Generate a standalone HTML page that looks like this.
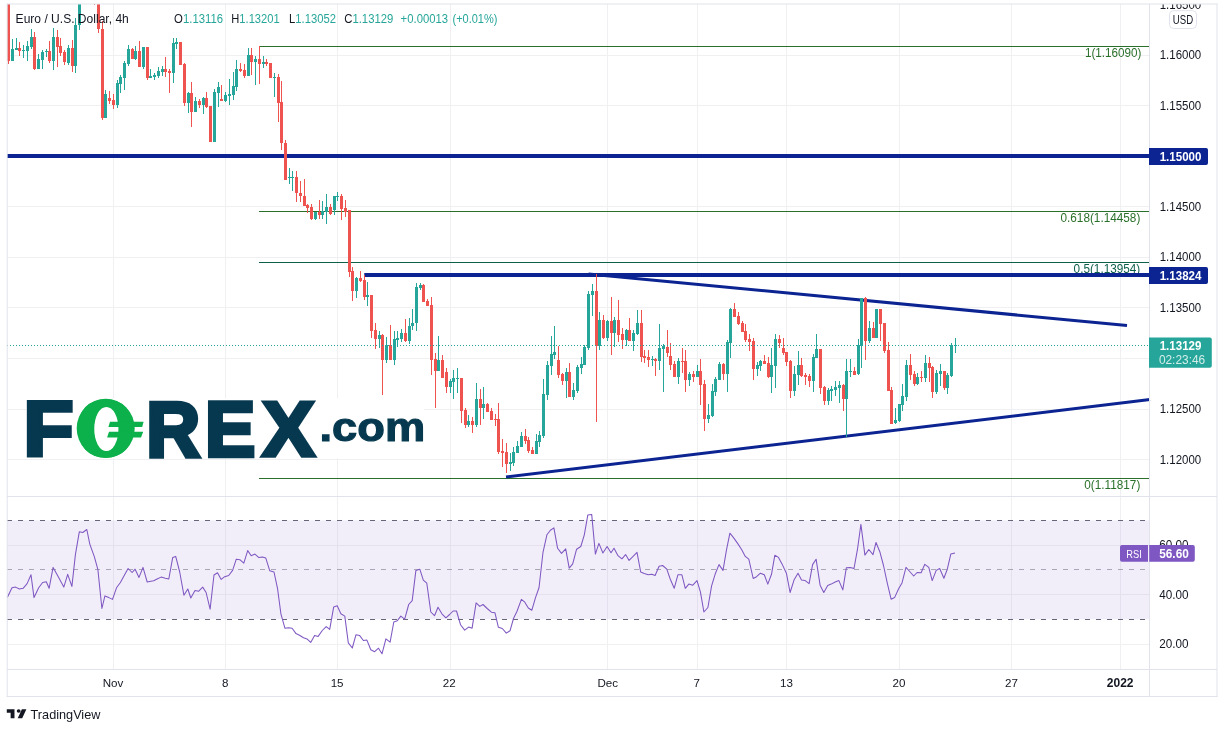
<!DOCTYPE html>
<html><head><meta charset="utf-8"><title>EUR/USD 4h chart</title>
<style>html,body{margin:0;padding:0;background:#fff}body{width:1227px;height:732px;overflow:hidden}svg{display:block;will-change:transform}</style>
</head><body>
<svg width="1227" height="732" viewBox="0 0 1227 732" font-family='"Liberation Sans", Arial, sans-serif'>
<rect width="1227" height="732" fill="#fff"/>
<g fill="#f0f0f3" shape-rendering="crispEdges">
<rect x="113" y="4" width="1" height="492"/>
<rect x="113" y="497" width="1" height="172"/>
<rect x="225" y="4" width="1" height="492"/>
<rect x="225" y="497" width="1" height="172"/>
<rect x="337" y="4" width="1" height="492"/>
<rect x="337" y="497" width="1" height="172"/>
<rect x="450" y="4" width="1" height="492"/>
<rect x="450" y="497" width="1" height="172"/>
<rect x="607" y="4" width="1" height="492"/>
<rect x="607" y="497" width="1" height="172"/>
<rect x="697" y="4" width="1" height="492"/>
<rect x="697" y="497" width="1" height="172"/>
<rect x="786" y="4" width="1" height="492"/>
<rect x="786" y="497" width="1" height="172"/>
<rect x="899" y="4" width="1" height="492"/>
<rect x="899" y="497" width="1" height="172"/>
<rect x="1011" y="4" width="1" height="492"/>
<rect x="1011" y="497" width="1" height="172"/>
<rect x="1120" y="4" width="1" height="492"/>
<rect x="1120" y="497" width="1" height="172"/>
<rect x="7" y="55" width="1142" height="1"/>
<rect x="7" y="105" width="1142" height="1"/>
<rect x="7" y="156" width="1142" height="1"/>
<rect x="7" y="206" width="1142" height="1"/>
<rect x="7" y="257" width="1142" height="1"/>
<rect x="7" y="307" width="1142" height="1"/>
<rect x="7" y="358" width="1142" height="1"/>
<rect x="7" y="409" width="1142" height="1"/>
<rect x="7" y="459" width="1142" height="1"/>
<rect x="7" y="545" width="1142" height="1"/>
<rect x="7" y="594" width="1142" height="1"/>
<rect x="7" y="644" width="1142" height="1"/>
</g>
<rect x="7" y="520.4" width="1142.6" height="98.8" fill="#7e57c2" fill-opacity="0.1"/>
<g fill="none" stroke-width="1" stroke-dasharray="5 6">
<path d="M7 520.5H1149" stroke="#67657a"/>
<path d="M7 619.5H1149" stroke="#67657a"/>
<path d="M7 569.5H1149" stroke="#a9a7b6"/>
</g>
<polyline fill="none" stroke="#7e57c2" stroke-width="1.05" stroke-linejoin="round" points="7.3,597.6 12.0,587.8 15.5,587.1 19.4,589.0 23.1,588.3 27.1,583.6 31.0,574.8 34.0,597.6 38.7,587.8 42.6,582.5 46.3,581.8 49.1,588.3 53.1,567.4 58.4,577.1 63.8,587.1 67.7,574.3 71.9,586.4 75.4,554.6 79.3,531.8 82.8,532.5 86.8,529.5 89.8,544.1 94.4,556.9 97.9,569.7 101.9,608.5 104.9,595.9 108.8,597.6 112.5,599.4 116.5,587.8 120.4,582.5 124.2,575.5 128.1,568.5 132.1,572.5 135.1,569.2 139.0,577.4 143.0,567.4 147.2,582.0 150.9,581.3 153.7,580.8 157.1,579.0 161.1,577.1 165.3,578.3 168.8,579.0 172.7,557.6 175.7,556.4 179.7,572.0 183.9,595.2 187.8,589.0 190.8,598.0 195.0,590.6 198.5,591.3 202.7,587.1 206.1,592.5 210.1,609.2 214.0,575.0 217.5,572.7 221.2,579.4 224.7,576.7 228.7,575.5 232.6,570.4 236.3,559.2 239.8,559.7 243.8,563.2 247.7,550.6 251.2,555.7 254.9,554.1 258.9,557.6 262.4,556.9 265.8,558.1 269.8,570.8 274.0,572.0 277.5,588.3 280.9,613.8 284.9,628.2 288.6,627.8 292.1,628.2 296.0,633.6 299.5,635.2 303.5,637.7 307.0,638.9 310.7,642.4 314.6,635.4 318.1,636.4 322.3,630.5 326.2,626.6 329.7,629.4 333.7,606.9 337.2,605.7 340.9,613.8 344.8,616.1 348.3,642.9 352.3,648.0 356.0,634.7 359.5,635.4 363.4,640.5 366.9,640.1 370.8,649.8 374.6,651.7 378.5,648.2 382.0,653.8 385.9,638.9 390.1,642.2 393.8,622.0 397.3,620.8 400.8,616.1 404.7,619.2 408.7,604.5 412.2,600.6 415.9,570.4 419.8,569.2 423.3,580.1 426.8,583.2 430.8,612.0 434.5,615.7 438.0,607.3 441.9,613.8 445.9,617.8 449.6,614.5 453.1,611.0 456.5,611.0 460.5,624.7 464.7,630.1 468.6,627.1 472.1,628.2 476.1,602.9 479.8,606.4 483.0,604.5 487.2,608.5 491.4,612.2 494.9,612.7 498.4,627.3 502.3,628.5 506.3,633.1 510.0,630.8 513.5,618.5 516.9,611.5 521.4,599.4 524.8,602.2 528.3,608.0 531.8,610.3 535.5,597.6 539.0,587.8 543.0,552.3 546.9,534.8 550.4,530.2 553.9,527.9 557.6,548.3 561.5,553.4 565.7,548.8 569.2,568.1 572.7,563.9 576.6,549.2 580.8,546.5 584.3,534.8 587.8,515.1 591.7,514.4 595.4,554.1 598.9,543.4 602.9,553.0 607.1,546.5 611.0,552.7 614.0,548.3 618.0,555.7 621.9,558.8 625.6,554.6 629.1,560.4 633.1,556.4 637.0,552.3 640.7,572.0 644.2,573.6 648.2,574.8 651.7,574.3 655.1,575.5 659.1,566.2 662.6,565.5 666.8,569.2 670.2,579.0 674.2,588.3 677.9,574.8 681.9,574.8 685.3,588.3 688.8,584.1 692.8,585.2 697.0,580.6 700.4,591.8 703.9,612.0 707.9,607.5 711.6,585.9 715.1,574.3 719.0,564.6 723.0,570.4 726.5,549.9 729.9,533.2 733.7,537.9 737.6,543.4 741.6,549.5 745.3,556.4 748.8,559.2 753.2,578.5 756.6,576.7 760.4,573.2 764.3,574.8 767.8,584.1 771.5,574.3 774.8,555.3 778.5,557.4 782.0,563.9 786.4,573.2 790.1,592.5 794.0,580.1 798.0,573.2 801.5,580.1 805.2,580.6 809.1,583.6 812.6,564.6 816.1,559.2 820.1,585.2 823.8,592.5 827.7,585.5 831.2,584.1 835.2,582.0 838.9,580.6 842.8,589.9 846.3,567.8 850.2,567.4 854.0,568.5 857.5,549.2 860.9,524.4 864.9,555.1 868.8,549.5 873.0,554.6 876.0,542.5 880.0,552.3 883.5,565.5 887.4,583.6 891.1,599.2 894.6,597.6 898.6,588.7 902.0,582.9 906.0,567.4 909.7,571.5 913.7,576.0 917.1,572.5 921.1,572.7 924.8,564.3 928.8,567.4 932.2,580.6 936.2,570.4 939.7,568.5 943.9,578.3 947.3,569.2 950.8,554.1 955.0,553.0"/>
<g shape-rendering="crispEdges">
<rect x="259" y="46" width="890.5" height="1" fill="#2a702a"/>
<rect x="259" y="211" width="890.5" height="1" fill="#2a702a"/>
<rect x="259" y="262" width="890.5" height="1" fill="#0e5f4c"/>
<rect x="259" y="478" width="890.5" height="1" fill="#2a702a"/>
</g>
<text x="1084.9" y="57.3" font-size="12" font-weight="normal" fill="#2a702a" text-anchor="start" textLength="56.4" lengthAdjust="spacingAndGlyphs">1(1.16090)</text>
<text x="1060.5" y="222.1" font-size="12" font-weight="normal" fill="#2a702a" text-anchor="start" textLength="79.8" lengthAdjust="spacingAndGlyphs">0.618(1.14458)</text>
<text x="1073.6" y="273.3" font-size="12" font-weight="normal" fill="#0e5f4c" text-anchor="start" textLength="66.7" lengthAdjust="spacingAndGlyphs">0.5(1.13954)</text>
<text x="1084.3" y="489.2" font-size="12" font-weight="normal" fill="#2a702a" text-anchor="start" textLength="56" lengthAdjust="spacingAndGlyphs">0(1.11817)</text>
<rect x="7" y="154" width="1143" height="4" fill="#0b2492"/>
<rect x="364.3" y="273" width="785.7" height="4" fill="#0b2492"/>
<path d="M588.5 273.9L1127 325.6" stroke="#0b2492" stroke-width="3.05" fill="none"/>
<path d="M506 477L1150 399.6" stroke="#0b2492" stroke-width="3.05" fill="none"/>
<rect x="26.5" y="398.5" width="397.5" height="59.7" fill="#fff"/>
<g shape-rendering="crispEdges">
<rect x="8" y="4" width="1" height="60" fill="#ef5350"/>
<rect x="7" y="4" width="3" height="57" fill="#ef5350"/>
<rect x="12" y="39" width="1" height="22" fill="#26a69a"/>
<rect x="11" y="49" width="3" height="12" fill="#26a69a"/>
<rect x="16" y="38" width="1" height="12" fill="#26a69a"/>
<rect x="15" y="48" width="3" height="2" fill="#26a69a"/>
<rect x="19" y="42" width="1" height="14" fill="#ef5350"/>
<rect x="18" y="48" width="3" height="3" fill="#ef5350"/>
<rect x="23" y="45" width="1" height="13" fill="#26a69a"/>
<rect x="22" y="50" width="3" height="1" fill="#26a69a"/>
<rect x="27" y="41" width="1" height="20" fill="#26a69a"/>
<rect x="26" y="46" width="3" height="5" fill="#26a69a"/>
<rect x="31" y="29" width="1" height="20" fill="#26a69a"/>
<rect x="30" y="37" width="3" height="10" fill="#26a69a"/>
<rect x="34" y="32" width="1" height="38" fill="#ef5350"/>
<rect x="33" y="37" width="3" height="32" fill="#ef5350"/>
<rect x="38" y="54" width="1" height="15" fill="#26a69a"/>
<rect x="37" y="59" width="3" height="10" fill="#26a69a"/>
<rect x="42" y="50" width="1" height="19" fill="#26a69a"/>
<rect x="41" y="52" width="3" height="8" fill="#26a69a"/>
<rect x="46" y="49" width="1" height="8" fill="#26a69a"/>
<rect x="45" y="51" width="3" height="1" fill="#26a69a"/>
<rect x="49" y="41" width="1" height="22" fill="#ef5350"/>
<rect x="48" y="51" width="3" height="10" fill="#ef5350"/>
<rect x="53" y="28" width="1" height="42" fill="#26a69a"/>
<rect x="52" y="37" width="3" height="24" fill="#26a69a"/>
<rect x="57" y="30" width="1" height="37" fill="#ef5350"/>
<rect x="56" y="37" width="3" height="10" fill="#ef5350"/>
<rect x="60" y="38" width="1" height="18" fill="#ef5350"/>
<rect x="59" y="46" width="3" height="7" fill="#ef5350"/>
<rect x="64" y="50" width="1" height="15" fill="#ef5350"/>
<rect x="63" y="52" width="3" height="10" fill="#ef5350"/>
<rect x="68" y="45" width="1" height="20" fill="#26a69a"/>
<rect x="67" y="48" width="3" height="15" fill="#26a69a"/>
<rect x="72" y="40" width="1" height="32" fill="#ef5350"/>
<rect x="71" y="48" width="3" height="18" fill="#ef5350"/>
<rect x="75" y="18" width="1" height="55" fill="#26a69a"/>
<rect x="74" y="25" width="3" height="41" fill="#26a69a"/>
<rect x="79" y="4" width="1" height="26" fill="#26a69a"/>
<rect x="78" y="4" width="3" height="21" fill="#26a69a"/>
<rect x="98" y="4" width="1" height="29" fill="#ef5350"/>
<rect x="97" y="4" width="3" height="25" fill="#ef5350"/>
<rect x="102" y="21" width="1" height="99" fill="#ef5350"/>
<rect x="101" y="29" width="3" height="89" fill="#ef5350"/>
<rect x="105" y="90" width="1" height="28" fill="#26a69a"/>
<rect x="104" y="94" width="3" height="24" fill="#26a69a"/>
<rect x="109" y="91" width="1" height="13" fill="#ef5350"/>
<rect x="108" y="98" width="3" height="3" fill="#ef5350"/>
<rect x="113" y="94" width="1" height="15" fill="#ef5350"/>
<rect x="112" y="100" width="3" height="5" fill="#ef5350"/>
<rect x="117" y="80" width="1" height="28" fill="#26a69a"/>
<rect x="116" y="83" width="3" height="22" fill="#26a69a"/>
<rect x="120" y="75" width="1" height="18" fill="#26a69a"/>
<rect x="119" y="77" width="3" height="7" fill="#26a69a"/>
<rect x="124" y="61" width="1" height="29" fill="#26a69a"/>
<rect x="123" y="63" width="3" height="15" fill="#26a69a"/>
<rect x="128" y="45" width="1" height="21" fill="#26a69a"/>
<rect x="127" y="49" width="3" height="15" fill="#26a69a"/>
<rect x="132" y="48" width="1" height="11" fill="#ef5350"/>
<rect x="131" y="49" width="3" height="10" fill="#ef5350"/>
<rect x="135" y="46" width="1" height="14" fill="#26a69a"/>
<rect x="134" y="51" width="3" height="8" fill="#26a69a"/>
<rect x="139" y="41" width="1" height="26" fill="#ef5350"/>
<rect x="138" y="51" width="3" height="16" fill="#ef5350"/>
<rect x="143" y="47" width="1" height="22" fill="#26a69a"/>
<rect x="142" y="47" width="3" height="20" fill="#26a69a"/>
<rect x="147" y="47" width="1" height="33" fill="#ef5350"/>
<rect x="146" y="47" width="3" height="31" fill="#ef5350"/>
<rect x="150" y="69" width="1" height="9" fill="#26a69a"/>
<rect x="149" y="76" width="3" height="2" fill="#26a69a"/>
<rect x="154" y="73" width="1" height="7" fill="#26a69a"/>
<rect x="153" y="75" width="3" height="2" fill="#26a69a"/>
<rect x="158" y="67" width="1" height="11" fill="#26a69a"/>
<rect x="157" y="71" width="3" height="5" fill="#26a69a"/>
<rect x="162" y="66" width="1" height="10" fill="#26a69a"/>
<rect x="161" y="69" width="3" height="3" fill="#26a69a"/>
<rect x="165" y="57" width="1" height="20" fill="#ef5350"/>
<rect x="164" y="69" width="3" height="3" fill="#ef5350"/>
<rect x="169" y="69" width="1" height="24" fill="#ef5350"/>
<rect x="168" y="71" width="3" height="2" fill="#ef5350"/>
<rect x="173" y="38" width="1" height="45" fill="#26a69a"/>
<rect x="172" y="43" width="3" height="30" fill="#26a69a"/>
<rect x="176" y="38" width="1" height="11" fill="#26a69a"/>
<rect x="175" y="42" width="3" height="2" fill="#26a69a"/>
<rect x="179" y="42" width="3" height="23" fill="#ef5350"/>
<rect x="184" y="63" width="1" height="43" fill="#ef5350"/>
<rect x="183" y="64" width="3" height="39" fill="#ef5350"/>
<rect x="188" y="92" width="1" height="21" fill="#26a69a"/>
<rect x="187" y="93" width="3" height="10" fill="#26a69a"/>
<rect x="191" y="82" width="1" height="45" fill="#ef5350"/>
<rect x="190" y="93" width="3" height="19" fill="#ef5350"/>
<rect x="195" y="97" width="1" height="15" fill="#26a69a"/>
<rect x="194" y="101" width="3" height="11" fill="#26a69a"/>
<rect x="199" y="99" width="1" height="9" fill="#ef5350"/>
<rect x="198" y="101" width="3" height="4" fill="#ef5350"/>
<rect x="203" y="97" width="1" height="17" fill="#26a69a"/>
<rect x="202" y="98" width="3" height="7" fill="#26a69a"/>
<rect x="206" y="92" width="1" height="16" fill="#ef5350"/>
<rect x="205" y="98" width="3" height="9" fill="#ef5350"/>
<rect x="209" y="106" width="3" height="36" fill="#ef5350"/>
<rect x="214" y="89" width="1" height="53" fill="#26a69a"/>
<rect x="213" y="92" width="3" height="50" fill="#26a69a"/>
<rect x="218" y="82" width="1" height="25" fill="#26a69a"/>
<rect x="217" y="87" width="3" height="6" fill="#26a69a"/>
<rect x="221" y="85" width="1" height="16" fill="#ef5350"/>
<rect x="220" y="99" width="3" height="2" fill="#ef5350"/>
<rect x="225" y="92" width="1" height="10" fill="#26a69a"/>
<rect x="224" y="95" width="3" height="6" fill="#26a69a"/>
<rect x="229" y="79" width="1" height="26" fill="#26a69a"/>
<rect x="228" y="94" width="3" height="2" fill="#26a69a"/>
<rect x="233" y="72" width="1" height="28" fill="#26a69a"/>
<rect x="232" y="86" width="3" height="9" fill="#26a69a"/>
<rect x="236" y="60" width="1" height="31" fill="#26a69a"/>
<rect x="235" y="69" width="3" height="18" fill="#26a69a"/>
<rect x="240" y="63" width="1" height="9" fill="#ef5350"/>
<rect x="239" y="69" width="3" height="2" fill="#ef5350"/>
<rect x="244" y="64" width="1" height="14" fill="#ef5350"/>
<rect x="243" y="70" width="3" height="6" fill="#ef5350"/>
<rect x="248" y="48" width="1" height="28" fill="#26a69a"/>
<rect x="247" y="55" width="3" height="21" fill="#26a69a"/>
<rect x="251" y="48" width="1" height="27" fill="#ef5350"/>
<rect x="250" y="55" width="3" height="7" fill="#ef5350"/>
<rect x="255" y="56" width="1" height="29" fill="#26a69a"/>
<rect x="254" y="59" width="3" height="3" fill="#26a69a"/>
<rect x="259" y="46" width="1" height="38" fill="#ef5350"/>
<rect x="258" y="59" width="3" height="5" fill="#ef5350"/>
<rect x="263" y="56" width="1" height="12" fill="#26a69a"/>
<rect x="262" y="62" width="3" height="2" fill="#26a69a"/>
<rect x="266" y="59" width="1" height="7" fill="#ef5350"/>
<rect x="265" y="62" width="3" height="2" fill="#ef5350"/>
<rect x="269" y="63" width="3" height="15" fill="#ef5350"/>
<rect x="274" y="73" width="1" height="24" fill="#26a69a"/>
<rect x="273" y="77" width="3" height="1" fill="#26a69a"/>
<rect x="278" y="74" width="1" height="48" fill="#ef5350"/>
<rect x="277" y="77" width="3" height="26" fill="#ef5350"/>
<rect x="281" y="81" width="1" height="69" fill="#ef5350"/>
<rect x="280" y="102" width="3" height="41" fill="#ef5350"/>
<rect x="285" y="140" width="1" height="40" fill="#ef5350"/>
<rect x="284" y="143" width="3" height="37" fill="#ef5350"/>
<rect x="289" y="168" width="1" height="16" fill="#26a69a"/>
<rect x="288" y="177" width="3" height="1" fill="#26a69a"/>
<rect x="292" y="171" width="1" height="20" fill="#26a69a"/>
<rect x="291" y="177" width="3" height="1" fill="#26a69a"/>
<rect x="296" y="171" width="1" height="31" fill="#ef5350"/>
<rect x="295" y="177" width="3" height="16" fill="#ef5350"/>
<rect x="300" y="181" width="1" height="21" fill="#ef5350"/>
<rect x="299" y="193" width="3" height="3" fill="#ef5350"/>
<rect x="304" y="179" width="1" height="27" fill="#ef5350"/>
<rect x="303" y="196" width="3" height="10" fill="#ef5350"/>
<rect x="307" y="204" width="1" height="9" fill="#ef5350"/>
<rect x="306" y="205" width="3" height="3" fill="#ef5350"/>
<rect x="311" y="204" width="1" height="16" fill="#ef5350"/>
<rect x="310" y="207" width="3" height="12" fill="#ef5350"/>
<rect x="315" y="212" width="1" height="8" fill="#26a69a"/>
<rect x="314" y="212" width="3" height="7" fill="#26a69a"/>
<rect x="319" y="200" width="1" height="19" fill="#ef5350"/>
<rect x="318" y="212" width="3" height="3" fill="#ef5350"/>
<rect x="322" y="201" width="1" height="18" fill="#26a69a"/>
<rect x="321" y="211" width="3" height="4" fill="#26a69a"/>
<rect x="326" y="194" width="1" height="30" fill="#26a69a"/>
<rect x="325" y="207" width="3" height="5" fill="#26a69a"/>
<rect x="330" y="204" width="1" height="11" fill="#ef5350"/>
<rect x="329" y="207" width="3" height="7" fill="#ef5350"/>
<rect x="334" y="196" width="1" height="19" fill="#26a69a"/>
<rect x="333" y="196" width="3" height="14" fill="#26a69a"/>
<rect x="337" y="192" width="1" height="9" fill="#26a69a"/>
<rect x="336" y="196" width="3" height="1" fill="#26a69a"/>
<rect x="341" y="194" width="1" height="26" fill="#ef5350"/>
<rect x="340" y="196" width="3" height="13" fill="#ef5350"/>
<rect x="345" y="200" width="1" height="17" fill="#ef5350"/>
<rect x="344" y="208" width="3" height="4" fill="#ef5350"/>
<rect x="349" y="210" width="1" height="67" fill="#ef5350"/>
<rect x="348" y="210" width="3" height="62" fill="#ef5350"/>
<rect x="352" y="267" width="1" height="34" fill="#ef5350"/>
<rect x="351" y="271" width="3" height="20" fill="#ef5350"/>
<rect x="356" y="277" width="1" height="21" fill="#26a69a"/>
<rect x="355" y="278" width="3" height="13" fill="#26a69a"/>
<rect x="360" y="271" width="1" height="11" fill="#ef5350"/>
<rect x="359" y="278" width="3" height="3" fill="#ef5350"/>
<rect x="364" y="275" width="1" height="25" fill="#ef5350"/>
<rect x="363" y="280" width="3" height="17" fill="#ef5350"/>
<rect x="367" y="282" width="1" height="24" fill="#26a69a"/>
<rect x="366" y="295" width="3" height="2" fill="#26a69a"/>
<rect x="371" y="295" width="1" height="43" fill="#ef5350"/>
<rect x="370" y="295" width="3" height="36" fill="#ef5350"/>
<rect x="375" y="323" width="1" height="26" fill="#ef5350"/>
<rect x="374" y="330" width="3" height="9" fill="#ef5350"/>
<rect x="379" y="331" width="1" height="17" fill="#26a69a"/>
<rect x="378" y="335" width="3" height="4" fill="#26a69a"/>
<rect x="382" y="334" width="1" height="61" fill="#ef5350"/>
<rect x="381" y="335" width="3" height="25" fill="#ef5350"/>
<rect x="386" y="337" width="1" height="26" fill="#26a69a"/>
<rect x="385" y="345" width="3" height="15" fill="#26a69a"/>
<rect x="390" y="325" width="1" height="35" fill="#ef5350"/>
<rect x="389" y="345" width="3" height="15" fill="#ef5350"/>
<rect x="394" y="331" width="1" height="34" fill="#26a69a"/>
<rect x="393" y="339" width="3" height="21" fill="#26a69a"/>
<rect x="397" y="331" width="1" height="16" fill="#26a69a"/>
<rect x="396" y="338" width="3" height="2" fill="#26a69a"/>
<rect x="401" y="329" width="1" height="13" fill="#26a69a"/>
<rect x="400" y="333" width="3" height="6" fill="#26a69a"/>
<rect x="405" y="319" width="1" height="23" fill="#ef5350"/>
<rect x="404" y="333" width="3" height="8" fill="#ef5350"/>
<rect x="409" y="318" width="1" height="26" fill="#26a69a"/>
<rect x="408" y="326" width="3" height="15" fill="#26a69a"/>
<rect x="412" y="309" width="1" height="21" fill="#26a69a"/>
<rect x="411" y="323" width="3" height="3" fill="#26a69a"/>
<rect x="416" y="283" width="1" height="48" fill="#26a69a"/>
<rect x="415" y="287" width="3" height="36" fill="#26a69a"/>
<rect x="420" y="283" width="1" height="7" fill="#26a69a"/>
<rect x="419" y="285" width="3" height="3" fill="#26a69a"/>
<rect x="423" y="284" width="1" height="18" fill="#ef5350"/>
<rect x="422" y="285" width="3" height="17" fill="#ef5350"/>
<rect x="427" y="299" width="1" height="7" fill="#ef5350"/>
<rect x="426" y="301" width="3" height="5" fill="#ef5350"/>
<rect x="431" y="297" width="1" height="78" fill="#ef5350"/>
<rect x="430" y="305" width="3" height="55" fill="#ef5350"/>
<rect x="435" y="353" width="1" height="55" fill="#ef5350"/>
<rect x="434" y="359" width="3" height="12" fill="#ef5350"/>
<rect x="438" y="336" width="1" height="35" fill="#26a69a"/>
<rect x="437" y="360" width="3" height="11" fill="#26a69a"/>
<rect x="442" y="355" width="1" height="23" fill="#ef5350"/>
<rect x="441" y="360" width="3" height="18" fill="#ef5350"/>
<rect x="446" y="368" width="1" height="25" fill="#ef5350"/>
<rect x="445" y="372" width="3" height="15" fill="#ef5350"/>
<rect x="450" y="379" width="1" height="14" fill="#26a69a"/>
<rect x="449" y="381" width="3" height="6" fill="#26a69a"/>
<rect x="453" y="370" width="1" height="29" fill="#26a69a"/>
<rect x="452" y="378" width="3" height="4" fill="#26a69a"/>
<rect x="457" y="368" width="1" height="25" fill="#26a69a"/>
<rect x="456" y="378" width="3" height="1" fill="#26a69a"/>
<rect x="461" y="378" width="1" height="45" fill="#ef5350"/>
<rect x="460" y="378" width="3" height="33" fill="#ef5350"/>
<rect x="465" y="408" width="1" height="20" fill="#ef5350"/>
<rect x="464" y="410" width="3" height="15" fill="#ef5350"/>
<rect x="468" y="415" width="1" height="12" fill="#26a69a"/>
<rect x="467" y="421" width="3" height="4" fill="#26a69a"/>
<rect x="472" y="417" width="1" height="16" fill="#ef5350"/>
<rect x="471" y="421" width="3" height="4" fill="#ef5350"/>
<rect x="476" y="383" width="1" height="44" fill="#26a69a"/>
<rect x="475" y="399" width="3" height="26" fill="#26a69a"/>
<rect x="480" y="389" width="1" height="36" fill="#ef5350"/>
<rect x="479" y="399" width="3" height="9" fill="#ef5350"/>
<rect x="483" y="387" width="1" height="32" fill="#26a69a"/>
<rect x="482" y="404" width="3" height="4" fill="#26a69a"/>
<rect x="487" y="403" width="1" height="9" fill="#ef5350"/>
<rect x="486" y="404" width="3" height="8" fill="#ef5350"/>
<rect x="491" y="408" width="1" height="12" fill="#ef5350"/>
<rect x="490" y="411" width="3" height="9" fill="#ef5350"/>
<rect x="495" y="414" width="1" height="12" fill="#ef5350"/>
<rect x="494" y="419" width="3" height="1" fill="#ef5350"/>
<rect x="498" y="403" width="1" height="51" fill="#ef5350"/>
<rect x="497" y="419" width="3" height="33" fill="#ef5350"/>
<rect x="502" y="439" width="1" height="28" fill="#ef5350"/>
<rect x="501" y="451" width="3" height="2" fill="#ef5350"/>
<rect x="506" y="443" width="1" height="30" fill="#ef5350"/>
<rect x="505" y="452" width="3" height="12" fill="#ef5350"/>
<rect x="510" y="453" width="1" height="18" fill="#26a69a"/>
<rect x="509" y="462" width="3" height="2" fill="#26a69a"/>
<rect x="513" y="447" width="1" height="19" fill="#26a69a"/>
<rect x="512" y="452" width="3" height="11" fill="#26a69a"/>
<rect x="517" y="441" width="1" height="12" fill="#26a69a"/>
<rect x="516" y="446" width="3" height="7" fill="#26a69a"/>
<rect x="521" y="432" width="1" height="15" fill="#26a69a"/>
<rect x="520" y="436" width="3" height="11" fill="#26a69a"/>
<rect x="525" y="429" width="1" height="15" fill="#ef5350"/>
<rect x="524" y="436" width="3" height="5" fill="#ef5350"/>
<rect x="528" y="437" width="1" height="16" fill="#ef5350"/>
<rect x="527" y="440" width="3" height="11" fill="#ef5350"/>
<rect x="532" y="447" width="1" height="7" fill="#ef5350"/>
<rect x="531" y="450" width="3" height="4" fill="#ef5350"/>
<rect x="536" y="434" width="1" height="20" fill="#26a69a"/>
<rect x="535" y="441" width="3" height="13" fill="#26a69a"/>
<rect x="539" y="431" width="1" height="16" fill="#26a69a"/>
<rect x="538" y="435" width="3" height="7" fill="#26a69a"/>
<rect x="543" y="379" width="1" height="59" fill="#26a69a"/>
<rect x="542" y="394" width="3" height="42" fill="#26a69a"/>
<rect x="547" y="361" width="1" height="39" fill="#26a69a"/>
<rect x="546" y="365" width="3" height="30" fill="#26a69a"/>
<rect x="551" y="336" width="1" height="39" fill="#26a69a"/>
<rect x="550" y="354" width="3" height="12" fill="#26a69a"/>
<rect x="554" y="326" width="1" height="33" fill="#26a69a"/>
<rect x="553" y="352" width="3" height="3" fill="#26a69a"/>
<rect x="558" y="346" width="1" height="32" fill="#ef5350"/>
<rect x="557" y="360" width="3" height="15" fill="#ef5350"/>
<rect x="562" y="373" width="1" height="12" fill="#ef5350"/>
<rect x="561" y="374" width="3" height="7" fill="#ef5350"/>
<rect x="566" y="368" width="1" height="30" fill="#26a69a"/>
<rect x="565" y="372" width="3" height="9" fill="#26a69a"/>
<rect x="569" y="363" width="1" height="34" fill="#ef5350"/>
<rect x="568" y="372" width="3" height="25" fill="#ef5350"/>
<rect x="573" y="383" width="1" height="17" fill="#26a69a"/>
<rect x="572" y="390" width="3" height="7" fill="#26a69a"/>
<rect x="577" y="365" width="1" height="28" fill="#26a69a"/>
<rect x="576" y="367" width="3" height="24" fill="#26a69a"/>
<rect x="581" y="357" width="1" height="17" fill="#26a69a"/>
<rect x="580" y="364" width="3" height="4" fill="#26a69a"/>
<rect x="584" y="345" width="1" height="20" fill="#26a69a"/>
<rect x="583" y="347" width="3" height="18" fill="#26a69a"/>
<rect x="588" y="291" width="1" height="59" fill="#26a69a"/>
<rect x="587" y="294" width="3" height="54" fill="#26a69a"/>
<rect x="592" y="284" width="1" height="32" fill="#26a69a"/>
<rect x="591" y="291" width="3" height="4" fill="#26a69a"/>
<rect x="596" y="274" width="1" height="148" fill="#ef5350"/>
<rect x="595" y="291" width="3" height="55" fill="#ef5350"/>
<rect x="599" y="312" width="1" height="38" fill="#26a69a"/>
<rect x="598" y="320" width="3" height="26" fill="#26a69a"/>
<rect x="603" y="315" width="1" height="24" fill="#ef5350"/>
<rect x="602" y="320" width="3" height="18" fill="#ef5350"/>
<rect x="607" y="320" width="1" height="21" fill="#26a69a"/>
<rect x="606" y="321" width="3" height="17" fill="#26a69a"/>
<rect x="611" y="297" width="1" height="58" fill="#ef5350"/>
<rect x="610" y="321" width="3" height="12" fill="#ef5350"/>
<rect x="614" y="317" width="1" height="30" fill="#26a69a"/>
<rect x="613" y="320" width="3" height="13" fill="#26a69a"/>
<rect x="618" y="300" width="1" height="42" fill="#ef5350"/>
<rect x="617" y="320" width="3" height="15" fill="#ef5350"/>
<rect x="622" y="328" width="1" height="21" fill="#ef5350"/>
<rect x="621" y="334" width="3" height="6" fill="#ef5350"/>
<rect x="626" y="329" width="1" height="17" fill="#26a69a"/>
<rect x="625" y="330" width="3" height="10" fill="#26a69a"/>
<rect x="629" y="318" width="1" height="23" fill="#ef5350"/>
<rect x="628" y="330" width="3" height="11" fill="#ef5350"/>
<rect x="633" y="330" width="1" height="21" fill="#26a69a"/>
<rect x="632" y="333" width="3" height="8" fill="#26a69a"/>
<rect x="637" y="310" width="1" height="25" fill="#26a69a"/>
<rect x="636" y="323" width="3" height="11" fill="#26a69a"/>
<rect x="641" y="310" width="1" height="52" fill="#ef5350"/>
<rect x="640" y="323" width="3" height="34" fill="#ef5350"/>
<rect x="644" y="350" width="1" height="13" fill="#ef5350"/>
<rect x="643" y="356" width="3" height="2" fill="#ef5350"/>
<rect x="648" y="350" width="1" height="17" fill="#ef5350"/>
<rect x="647" y="357" width="3" height="3" fill="#ef5350"/>
<rect x="652" y="356" width="1" height="10" fill="#26a69a"/>
<rect x="651" y="359" width="3" height="1" fill="#26a69a"/>
<rect x="655" y="358" width="1" height="18" fill="#ef5350"/>
<rect x="654" y="359" width="3" height="2" fill="#ef5350"/>
<rect x="659" y="324" width="1" height="46" fill="#26a69a"/>
<rect x="658" y="348" width="3" height="13" fill="#26a69a"/>
<rect x="663" y="344" width="1" height="48" fill="#26a69a"/>
<rect x="662" y="346" width="3" height="3" fill="#26a69a"/>
<rect x="667" y="330" width="1" height="27" fill="#ef5350"/>
<rect x="666" y="347" width="3" height="6" fill="#ef5350"/>
<rect x="670" y="343" width="1" height="27" fill="#ef5350"/>
<rect x="669" y="356" width="3" height="9" fill="#ef5350"/>
<rect x="674" y="361" width="1" height="16" fill="#ef5350"/>
<rect x="673" y="364" width="3" height="13" fill="#ef5350"/>
<rect x="678" y="358" width="1" height="26" fill="#26a69a"/>
<rect x="677" y="361" width="3" height="16" fill="#26a69a"/>
<rect x="682" y="348" width="1" height="25" fill="#ef5350"/>
<rect x="681" y="361" width="3" height="1" fill="#ef5350"/>
<rect x="685" y="350" width="1" height="42" fill="#ef5350"/>
<rect x="684" y="361" width="3" height="19" fill="#ef5350"/>
<rect x="689" y="372" width="1" height="14" fill="#26a69a"/>
<rect x="688" y="374" width="3" height="6" fill="#26a69a"/>
<rect x="693" y="371" width="1" height="11" fill="#ef5350"/>
<rect x="692" y="374" width="3" height="3" fill="#ef5350"/>
<rect x="697" y="365" width="1" height="12" fill="#26a69a"/>
<rect x="696" y="371" width="3" height="6" fill="#26a69a"/>
<rect x="700" y="359" width="1" height="46" fill="#ef5350"/>
<rect x="699" y="371" width="3" height="14" fill="#ef5350"/>
<rect x="704" y="380" width="1" height="51" fill="#ef5350"/>
<rect x="703" y="384" width="3" height="35" fill="#ef5350"/>
<rect x="708" y="404" width="1" height="19" fill="#26a69a"/>
<rect x="707" y="415" width="3" height="4" fill="#26a69a"/>
<rect x="712" y="384" width="1" height="33" fill="#26a69a"/>
<rect x="711" y="391" width="3" height="25" fill="#26a69a"/>
<rect x="715" y="377" width="1" height="19" fill="#26a69a"/>
<rect x="714" y="379" width="3" height="13" fill="#26a69a"/>
<rect x="719" y="362" width="1" height="18" fill="#26a69a"/>
<rect x="718" y="364" width="3" height="16" fill="#26a69a"/>
<rect x="723" y="363" width="1" height="17" fill="#ef5350"/>
<rect x="722" y="364" width="3" height="10" fill="#ef5350"/>
<rect x="727" y="340" width="1" height="52" fill="#26a69a"/>
<rect x="726" y="342" width="3" height="32" fill="#26a69a"/>
<rect x="730" y="308" width="1" height="50" fill="#26a69a"/>
<rect x="729" y="309" width="3" height="34" fill="#26a69a"/>
<rect x="734" y="303" width="1" height="14" fill="#ef5350"/>
<rect x="733" y="309" width="3" height="8" fill="#ef5350"/>
<rect x="738" y="312" width="1" height="13" fill="#ef5350"/>
<rect x="737" y="316" width="3" height="8" fill="#ef5350"/>
<rect x="742" y="321" width="1" height="11" fill="#ef5350"/>
<rect x="741" y="323" width="3" height="9" fill="#ef5350"/>
<rect x="745" y="324" width="1" height="18" fill="#ef5350"/>
<rect x="744" y="331" width="3" height="9" fill="#ef5350"/>
<rect x="749" y="334" width="1" height="17" fill="#ef5350"/>
<rect x="748" y="339" width="3" height="3" fill="#ef5350"/>
<rect x="753" y="338" width="1" height="42" fill="#ef5350"/>
<rect x="752" y="341" width="3" height="28" fill="#ef5350"/>
<rect x="757" y="362" width="1" height="14" fill="#26a69a"/>
<rect x="756" y="365" width="3" height="4" fill="#26a69a"/>
<rect x="760" y="360" width="1" height="11" fill="#26a69a"/>
<rect x="759" y="361" width="3" height="5" fill="#26a69a"/>
<rect x="764" y="355" width="1" height="9" fill="#ef5350"/>
<rect x="763" y="361" width="3" height="3" fill="#ef5350"/>
<rect x="768" y="357" width="1" height="21" fill="#ef5350"/>
<rect x="767" y="363" width="3" height="14" fill="#ef5350"/>
<rect x="771" y="348" width="1" height="45" fill="#26a69a"/>
<rect x="770" y="365" width="3" height="12" fill="#26a69a"/>
<rect x="775" y="334" width="1" height="54" fill="#26a69a"/>
<rect x="774" y="339" width="3" height="27" fill="#26a69a"/>
<rect x="779" y="335" width="1" height="13" fill="#ef5350"/>
<rect x="778" y="339" width="3" height="4" fill="#ef5350"/>
<rect x="783" y="338" width="1" height="17" fill="#ef5350"/>
<rect x="782" y="348" width="3" height="5" fill="#ef5350"/>
<rect x="786" y="352" width="1" height="14" fill="#ef5350"/>
<rect x="785" y="352" width="3" height="10" fill="#ef5350"/>
<rect x="790" y="360" width="1" height="38" fill="#ef5350"/>
<rect x="789" y="361" width="3" height="30" fill="#ef5350"/>
<rect x="794" y="366" width="1" height="30" fill="#26a69a"/>
<rect x="793" y="374" width="3" height="17" fill="#26a69a"/>
<rect x="798" y="351" width="1" height="34" fill="#26a69a"/>
<rect x="797" y="365" width="3" height="10" fill="#26a69a"/>
<rect x="801" y="358" width="1" height="19" fill="#ef5350"/>
<rect x="800" y="365" width="3" height="11" fill="#ef5350"/>
<rect x="805" y="373" width="1" height="12" fill="#ef5350"/>
<rect x="804" y="375" width="3" height="2" fill="#ef5350"/>
<rect x="809" y="374" width="1" height="13" fill="#ef5350"/>
<rect x="808" y="376" width="3" height="5" fill="#ef5350"/>
<rect x="813" y="354" width="1" height="38" fill="#26a69a"/>
<rect x="812" y="357" width="3" height="24" fill="#26a69a"/>
<rect x="816" y="334" width="1" height="24" fill="#26a69a"/>
<rect x="815" y="349" width="3" height="9" fill="#26a69a"/>
<rect x="820" y="349" width="1" height="45" fill="#ef5350"/>
<rect x="819" y="349" width="3" height="39" fill="#ef5350"/>
<rect x="824" y="386" width="1" height="19" fill="#ef5350"/>
<rect x="823" y="387" width="3" height="14" fill="#ef5350"/>
<rect x="828" y="388" width="1" height="17" fill="#26a69a"/>
<rect x="827" y="390" width="3" height="11" fill="#26a69a"/>
<rect x="831" y="386" width="1" height="15" fill="#26a69a"/>
<rect x="830" y="389" width="3" height="2" fill="#26a69a"/>
<rect x="835" y="381" width="1" height="15" fill="#26a69a"/>
<rect x="834" y="387" width="3" height="3" fill="#26a69a"/>
<rect x="839" y="381" width="1" height="22" fill="#26a69a"/>
<rect x="838" y="385" width="3" height="3" fill="#26a69a"/>
<rect x="843" y="384" width="1" height="27" fill="#ef5350"/>
<rect x="842" y="385" width="3" height="14" fill="#ef5350"/>
<rect x="846" y="359" width="1" height="78" fill="#26a69a"/>
<rect x="845" y="371" width="3" height="28" fill="#26a69a"/>
<rect x="850" y="359" width="1" height="18" fill="#26a69a"/>
<rect x="849" y="371" width="3" height="1" fill="#26a69a"/>
<rect x="854" y="367" width="1" height="8" fill="#ef5350"/>
<rect x="853" y="371" width="3" height="4" fill="#ef5350"/>
<rect x="858" y="339" width="1" height="36" fill="#26a69a"/>
<rect x="857" y="345" width="3" height="29" fill="#26a69a"/>
<rect x="861" y="298" width="1" height="70" fill="#26a69a"/>
<rect x="860" y="298" width="3" height="48" fill="#26a69a"/>
<rect x="865" y="297" width="1" height="63" fill="#ef5350"/>
<rect x="864" y="298" width="3" height="43" fill="#ef5350"/>
<rect x="869" y="321" width="1" height="22" fill="#26a69a"/>
<rect x="868" y="328" width="3" height="13" fill="#26a69a"/>
<rect x="873" y="322" width="1" height="16" fill="#ef5350"/>
<rect x="872" y="328" width="3" height="10" fill="#ef5350"/>
<rect x="875" y="309" width="3" height="29" fill="#26a69a"/>
<rect x="880" y="309" width="1" height="32" fill="#ef5350"/>
<rect x="879" y="309" width="3" height="15" fill="#ef5350"/>
<rect x="884" y="323" width="1" height="30" fill="#ef5350"/>
<rect x="883" y="323" width="3" height="28" fill="#ef5350"/>
<rect x="888" y="342" width="1" height="49" fill="#ef5350"/>
<rect x="887" y="350" width="3" height="41" fill="#ef5350"/>
<rect x="891" y="387" width="1" height="37" fill="#ef5350"/>
<rect x="890" y="390" width="3" height="34" fill="#ef5350"/>
<rect x="895" y="408" width="1" height="16" fill="#26a69a"/>
<rect x="894" y="420" width="3" height="3" fill="#26a69a"/>
<rect x="899" y="404" width="1" height="18" fill="#26a69a"/>
<rect x="898" y="404" width="3" height="17" fill="#26a69a"/>
<rect x="902" y="384" width="1" height="27" fill="#26a69a"/>
<rect x="901" y="396" width="3" height="9" fill="#26a69a"/>
<rect x="906" y="360" width="1" height="41" fill="#26a69a"/>
<rect x="905" y="365" width="3" height="32" fill="#26a69a"/>
<rect x="910" y="354" width="1" height="26" fill="#ef5350"/>
<rect x="909" y="365" width="3" height="10" fill="#ef5350"/>
<rect x="914" y="371" width="1" height="15" fill="#ef5350"/>
<rect x="913" y="374" width="3" height="10" fill="#ef5350"/>
<rect x="917" y="373" width="1" height="12" fill="#26a69a"/>
<rect x="916" y="377" width="3" height="7" fill="#26a69a"/>
<rect x="921" y="371" width="1" height="11" fill="#ef5350"/>
<rect x="920" y="377" width="3" height="1" fill="#ef5350"/>
<rect x="925" y="355" width="1" height="27" fill="#26a69a"/>
<rect x="924" y="363" width="3" height="15" fill="#26a69a"/>
<rect x="929" y="357" width="1" height="25" fill="#ef5350"/>
<rect x="928" y="363" width="3" height="5" fill="#ef5350"/>
<rect x="932" y="366" width="1" height="32" fill="#ef5350"/>
<rect x="931" y="367" width="3" height="25" fill="#ef5350"/>
<rect x="936" y="370" width="1" height="24" fill="#26a69a"/>
<rect x="935" y="373" width="3" height="19" fill="#26a69a"/>
<rect x="940" y="364" width="1" height="22" fill="#26a69a"/>
<rect x="939" y="371" width="3" height="3" fill="#26a69a"/>
<rect x="944" y="371" width="1" height="19" fill="#ef5350"/>
<rect x="943" y="371" width="3" height="17" fill="#ef5350"/>
<rect x="947" y="373" width="1" height="21" fill="#26a69a"/>
<rect x="946" y="375" width="3" height="13" fill="#26a69a"/>
<rect x="951" y="343" width="1" height="34" fill="#26a69a"/>
<rect x="950" y="345" width="3" height="31" fill="#26a69a"/>
<rect x="955" y="338" width="1" height="15" fill="#26a69a"/>
<rect x="954" y="345" width="3" height="1" fill="#26a69a"/>
<rect x="94" y="4" width="1" height="1" fill="#ef5350"/>
</g>
<path d="M7 345.5H1150" stroke="#26a69a" stroke-width="1" stroke-dasharray="1 2" fill="none" shape-rendering="crispEdges"/>
<g fill="#e0e3eb">
<rect x="6.7" y="3.5" width="1210.8" height="1"/>
<rect x="6.7" y="696" width="1210.8" height="1"/>
<rect x="6.7" y="3.5" width="1" height="693.5"/>
<rect x="1216.5" y="3.5" width="1" height="693.5"/>
<rect x="1149" y="4" width="1" height="692"/>
<rect x="7" y="496" width="1210" height="1"/>
<rect x="7" y="669" width="1210" height="1"/>
</g>
<svg x="1150" y="4.5" width="66" height="20" overflow="hidden"><text x="9.7" y="4.3" font-size="12" font-weight="normal" fill="#131722" text-anchor="start" textLength="41.5" lengthAdjust="spacingAndGlyphs">1.16500</text></svg>
<text x="1159.7" y="59.3" font-size="12" font-weight="normal" fill="#131722" text-anchor="start" textLength="41.5" lengthAdjust="spacingAndGlyphs">1.16000</text>
<text x="1159.7" y="109.8" font-size="12" font-weight="normal" fill="#131722" text-anchor="start" textLength="41.5" lengthAdjust="spacingAndGlyphs">1.15500</text>
<text x="1159.7" y="210.9" font-size="12" font-weight="normal" fill="#131722" text-anchor="start" textLength="41.5" lengthAdjust="spacingAndGlyphs">1.14500</text>
<text x="1159.7" y="261.0" font-size="12" font-weight="normal" fill="#131722" text-anchor="start" textLength="41.5" lengthAdjust="spacingAndGlyphs">1.14000</text>
<text x="1159.7" y="312.0" font-size="12" font-weight="normal" fill="#131722" text-anchor="start" textLength="41.5" lengthAdjust="spacingAndGlyphs">1.13500</text>
<text x="1159.7" y="413.0" font-size="12" font-weight="normal" fill="#131722" text-anchor="start" textLength="41.5" lengthAdjust="spacingAndGlyphs">1.12500</text>
<text x="1159.7" y="463.9" font-size="12" font-weight="normal" fill="#131722" text-anchor="start" textLength="41.5" lengthAdjust="spacingAndGlyphs">1.12000</text>
<text x="1159.2" y="549.1" font-size="12" font-weight="normal" fill="#131722" text-anchor="start" textLength="29.3" lengthAdjust="spacingAndGlyphs">60.00</text>
<text x="1159.2" y="598.8" font-size="12" font-weight="normal" fill="#131722" text-anchor="start" textLength="29.3" lengthAdjust="spacingAndGlyphs">40.00</text>
<text x="1159.2" y="648.3" font-size="12" font-weight="normal" fill="#131722" text-anchor="start" textLength="29.3" lengthAdjust="spacingAndGlyphs">20.00</text>
<rect x="1169.5" y="10.7" width="27" height="17.8" rx="4" fill="#fff" stroke="#e0e3eb" stroke-width="1"/>
<text x="1172.8" y="24.1" font-size="12" font-weight="normal" fill="#131722" text-anchor="start" textLength="20.3" lengthAdjust="spacingAndGlyphs">USD</text>
<path d="M1149 148h57a2 2 0 0 1 2 2v13a2 2 0 0 1 -2 2h-57z" fill="#0b2492"/>
<text x="1159.7" y="160.7" font-size="12" font-weight="bold" fill="#fff" text-anchor="start" textLength="41.8" lengthAdjust="spacingAndGlyphs">1.15000</text>
<path d="M1149 267h57a2 2 0 0 1 2 2v13a2 2 0 0 1 -2 2h-57z" fill="#0b2492"/>
<text x="1159.7" y="279.7" font-size="12" font-weight="bold" fill="#fff" text-anchor="start" textLength="41.8" lengthAdjust="spacingAndGlyphs">1.13824</text>
<path d="M1149 337.4h60.8a2 2 0 0 1 2 2v26.4a2 2 0 0 1 -2 2h-60.8z" fill="#26a69a"/>
<text x="1159.7" y="349.9" font-size="12" font-weight="bold" fill="#fff" text-anchor="start" textLength="41.8" lengthAdjust="spacingAndGlyphs">1.13129</text>
<text x="1158.9" y="363.9" font-size="12" font-weight="normal" fill="#d4edea" text-anchor="start" textLength="46.3" lengthAdjust="spacingAndGlyphs">02:23:46</text>
<path d="M1122 545.1h26v16.6h-26a2 2 0 0 1 -2 -2v-12.6a2 2 0 0 1 2 -2z" fill="#7e57c2"/>
<path d="M1149.2 545.1h43.6a2 2 0 0 1 2 2v12.600000000000001a2 2 0 0 1 -2 2h-43.6z" fill="#7e57c2"/>
<text x="1126.3" y="557.6" font-size="11.5" font-weight="normal" fill="#fff" text-anchor="start" textLength="15.5" lengthAdjust="spacingAndGlyphs">RSI</text>
<text x="1159.2" y="557.8" font-size="12" font-weight="bold" fill="#fff" text-anchor="start" textLength="29.6" lengthAdjust="spacingAndGlyphs">56.60</text>
<text x="113" y="687.0" font-size="11.6" font-weight="normal" fill="#131722" text-anchor="middle">Nov</text>
<text x="225.3" y="687.0" font-size="11.6" font-weight="normal" fill="#131722" text-anchor="middle">8</text>
<text x="337.1" y="687.0" font-size="11.6" font-weight="normal" fill="#131722" text-anchor="middle">15</text>
<text x="449.2" y="687.0" font-size="11.6" font-weight="normal" fill="#131722" text-anchor="middle">22</text>
<text x="607.8" y="687.0" font-size="11.6" font-weight="normal" fill="#131722" text-anchor="middle">Dec</text>
<text x="696.8" y="687.0" font-size="11.6" font-weight="normal" fill="#131722" text-anchor="middle">7</text>
<text x="786.5" y="687.0" font-size="11.6" font-weight="normal" fill="#131722" text-anchor="middle">13</text>
<text x="899" y="687.0" font-size="11.6" font-weight="normal" fill="#131722" text-anchor="middle">20</text>
<text x="1011.5" y="687.0" font-size="11.6" font-weight="normal" fill="#131722" text-anchor="middle">27</text>
<text x="1120.2" y="687.1" font-size="12" font-weight="bold" fill="#131722" text-anchor="middle">2022</text>
<text x="15.6" y="23.3" font-size="13" font-weight="normal" fill="#131722" text-anchor="start" textLength="113.2" lengthAdjust="spacingAndGlyphs">Euro / U.S. Dollar, 4h</text>
<text x="174.1" y="22.7" font-size="12" textLength="49.0" lengthAdjust="spacingAndGlyphs"><tspan fill="#131722">O</tspan><tspan fill="#26a69a">1.13116</tspan></text>
<text x="231.3" y="22.7" font-size="12" textLength="48.4" lengthAdjust="spacingAndGlyphs"><tspan fill="#131722">H</tspan><tspan fill="#26a69a">1.13201</tspan></text>
<text x="289.1" y="22.7" font-size="12" textLength="46.9" lengthAdjust="spacingAndGlyphs"><tspan fill="#131722">L</tspan><tspan fill="#26a69a">1.13052</tspan></text>
<text x="344.3" y="22.7" font-size="12" textLength="49.0" lengthAdjust="spacingAndGlyphs"><tspan fill="#131722">C</tspan><tspan fill="#26a69a">1.13129</tspan></text>
<text x="400.6" y="22.7" font-size="12" font-weight="normal" fill="#26a69a" text-anchor="start" textLength="47.5" lengthAdjust="spacingAndGlyphs">+0.00013</text>
<text x="452.5" y="22.7" font-size="12" font-weight="normal" fill="#26a69a" text-anchor="start" textLength="44.9" lengthAdjust="spacingAndGlyphs">(+0.01%)</text>
<g id="forexlogo">
<text transform="translate(23.57 455.89) scale(0.4098 0.3898)" font-size="200" font-weight="bold" fill="#06394f" stroke="#06394f" stroke-width="4.2" stroke-linejoin="miter" vector-effect="non-scaling-stroke" style="vector-effect:non-scaling-stroke">F</text>
<text transform="translate(75.39 455.71) scale(0.3885 0.3944)" font-size="200" font-weight="bold" fill="#0db14b" stroke="#0db14b" stroke-width="1" stroke-linejoin="miter" vector-effect="non-scaling-stroke" style="vector-effect:non-scaling-stroke">O</text>
<ellipse cx="105.7" cy="428.45" rx="29" ry="29.6" fill="#0db14b"/>
<ellipse cx="106.35" cy="429" rx="12.1" ry="22.1" fill="#fff"/>
<path d="M110 421.7H143.6L142.2 426.9H108.4Z M109 431.7H143.2L141 437.6H107.1Z" fill="#0db14b"/>
<text transform="translate(146.25 455.50) scale(0.3732 0.3912)" font-size="200" font-weight="bold" fill="#06394f" stroke="#06394f" stroke-width="4.2" stroke-linejoin="miter" vector-effect="non-scaling-stroke" style="vector-effect:non-scaling-stroke">R</text>
<text transform="translate(205.00 455.50) scale(0.3770 0.3884)" font-size="200" font-weight="bold" fill="#06394f" stroke="#06394f" stroke-width="4.2" stroke-linejoin="miter" vector-effect="non-scaling-stroke" style="vector-effect:non-scaling-stroke">E</text>
<text transform="translate(261.80 455.80) scale(0.4000 0.3928)" font-size="200" font-weight="bold" fill="#06394f" stroke="#06394f" stroke-width="3.6" stroke-linejoin="miter" vector-effect="non-scaling-stroke" style="vector-effect:non-scaling-stroke">X</text>
<text transform="translate(319.53 441.19) scale(0.2264 0.2073)" font-size="200" font-weight="bold" fill="#06394f" stroke="#06394f" stroke-width="1.2" stroke-linejoin="miter" vector-effect="non-scaling-stroke" style="vector-effect:non-scaling-stroke">.com</text>
</g>
<g transform="translate(5.5 705.55) scale(0.642 0.607)" fill="#131722"><path d="M14 6H2v6h6v9h6V6Zm12 15h-7l6.5-15h7L26 21Zm-5.5-9a3 3 0 1 0 0-6 3 3 0 0 0 0 6Z"/></g>
<text x="30.6" y="718.9" font-size="13" font-weight="normal" fill="#131722" text-anchor="start" textLength="69.8" lengthAdjust="spacingAndGlyphs">TradingView</text>
</svg>
</body></html>
